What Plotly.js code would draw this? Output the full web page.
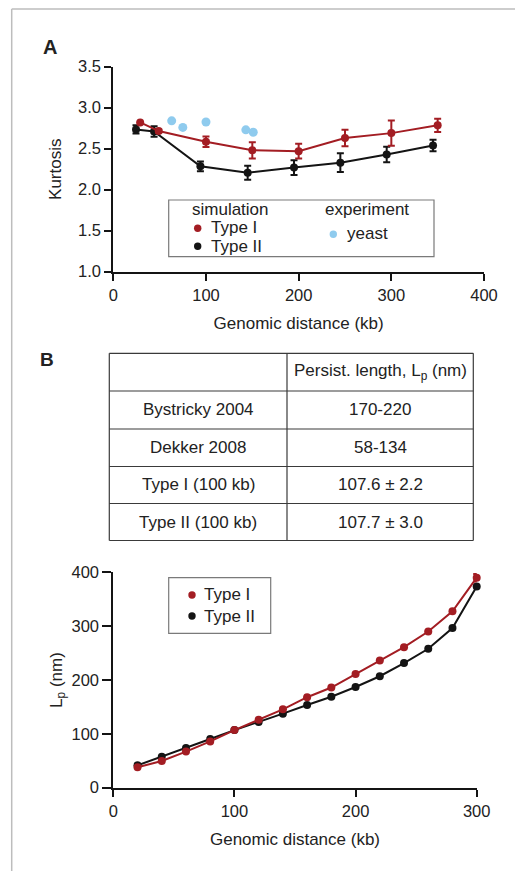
<!DOCTYPE html>
<html><head><meta charset="utf-8">
<script src="https://cdn.plot.ly/plotly-3.0.1.min.js"></script>
<style>html,body{margin:0;padding:0;background:#fff;}#chart{width:515px;height:871px;}</style>
</head><body><div id="chart"></div>
<script>
// ---- Panel A: kurtosis vs genomic distance ----
const kbTypeI = [29, 49, 100, 150, 200, 250, 300, 350];
const kurtTypeI = [2.82, 2.715, 2.585, 2.48, 2.47, 2.63, 2.69, 2.785];
const kurtTypeIErr = [0.0, 0.02, 0.065, 0.10, 0.09, 0.10, 0.155, 0.08];
const kbTypeII = [24.5, 44, 94, 145, 195, 245, 295, 345];
const kurtTypeII = [2.735, 2.71, 2.285, 2.207, 2.27, 2.33, 2.43, 2.54];
const kurtTypeIIErr = [0.05, 0.065, 0.06, 0.085, 0.09, 0.115, 0.095, 0.07];
const kbYeast = [63, 75, 100, 143, 151];
const kurtYeast = [2.84, 2.76, 2.825, 2.73, 2.70];
const kurtTicks = [1.0, 1.5, 2.0, 2.5, 3.0, 3.5];
const kbTicksA = [0, 100, 200, 300, 400];

// ---- Panel B: table ----
const tableHeader = ["", "Persist. length, L<sub>p</sub> (nm)"];
const tableSources = ["Bystricky 2004", "Dekker 2008", "Type I (100 kb)", "Type II (100 kb)"];
const tableLp = ["170-220", "58-134", "107.6 ± 2.2", "107.7 ± 3.0"];

// ---- Panel B: Lp vs genomic distance ----
const kbLp = [20, 40, 60, 80, 100, 120, 140, 160, 180, 200, 220, 240, 260, 280, 300];
const lpTypeI = [38, 49.5, 67, 86, 107, 126, 145.5, 168, 186, 211, 236, 261, 290, 327.5, 390];
const lpTypeIErr = [0, 0, 0, 0, 0, 0, 0, 0, 0, 0, 0, 0, 0, 0, 7];
const lpTypeII = [41.5, 57.5, 73.5, 90.5, 107, 122, 137.5, 153.5, 169, 187, 207, 231.5, 258, 296.5, 373.5];
const lpTicks = [0, 100, 200, 300, 400];
const kbTicksB = [0, 100, 200, 300];

const RED = '#a31d23', BLACK = '#141414', BLUE = '#8fcbee', INK = '#222';
const W = 515, H = 871;
const px = v => v / W, py = v => 1 - v / H;
const FONT = '"Liberation Sans", Arial, Helvetica, sans-serif';
const FS = 17;

const traces = [
  {x: kbTypeII, y: kurtTypeII, type: 'scatter', mode: 'lines+markers', xaxis: 'x', yaxis: 'y',
   line: {color: BLACK, width: 2}, marker: {color: BLACK, size: 8},
   error_y: {type: 'data', array: kurtTypeIIErr, color: BLACK, thickness: 2, width: 3.5},
   cliponaxis: false, showlegend: false, name: 'Type II'},
  {x: kbTypeI, y: kurtTypeI, type: 'scatter', mode: 'lines+markers', xaxis: 'x', yaxis: 'y',
   line: {color: RED, width: 2}, marker: {color: RED, size: 8},
   error_y: {type: 'data', array: kurtTypeIErr, color: RED, thickness: 2, width: 3.5},
   cliponaxis: false, showlegend: false, name: 'Type I'},
  {x: kbYeast, y: kurtYeast, type: 'scatter', mode: 'markers', xaxis: 'x', yaxis: 'y',
   marker: {color: BLUE, size: 9}, cliponaxis: false, showlegend: false, name: 'yeast'},
  {x: kbLp, y: lpTypeII, type: 'scatter', mode: 'lines+markers', xaxis: 'x2', yaxis: 'y2',
   line: {color: BLACK, width: 2}, marker: {color: BLACK, size: 8},
   cliponaxis: false, showlegend: false, name: 'Type II'},
  {x: kbLp, y: lpTypeI, type: 'scatter', mode: 'lines+markers', xaxis: 'x2', yaxis: 'y2',
   line: {color: RED, width: 2}, marker: {color: RED, size: 8},
   error_y: {type: 'data', array: lpTypeIErr, color: RED, thickness: 2, width: 3.5},
   cliponaxis: false, showlegend: false, name: 'Type I'}
];

const axisBase = {showline: true, linecolor: BLACK, ticks: 'outside', tickcolor: BLACK, tickwidth: 2,
  showgrid: false, zeroline: false, fixedrange: true, tickfont: {family: FONT, size: 16.5, color: INK},
  automargin: false};

function dot(cx, cy, color) {
  return {type: 'circle', xref: 'paper', yref: 'paper', x0: px(cx - 3.7), x1: px(cx + 3.7),
          y0: py(cy + 3.7), y1: py(cy - 3.7), fillcolor: color, line: {width: 0}};
}
function label(text, x, y, size, opts) {
  return Object.assign({text: text, x: px(x), y: py(y), xref: 'paper', yref: 'paper', showarrow: false,
    xanchor: 'left', yanchor: 'middle', font: {family: FONT, size: size, color: INK}}, opts || {});
}
function pline(x0, y0, x1, y1, color, width) {
  return {type: 'line', xref: 'paper', yref: 'paper', x0: px(x0), x1: px(x1), y0: py(y0), y1: py(y1),
          line: {color: color, width: width}};
}

// table geometry (page pixels)
const tabCols = [109.3, 287, 473.3];
const tabRows = [353.3, 391, 429, 466.5, 503.5, 540.5];
const tableShapes = [];
tabRows.forEach(y => tableShapes.push(pline(tabCols[0], y, tabCols[2], y, '#3a3a3a', 1.2)));
tabCols.forEach(x => tableShapes.push(pline(x, tabRows[0], x, tabRows[tabRows.length - 1], '#3a3a3a', 1.2)));
const tableAnn = [];
tableHeader.forEach((t, c) => {
  if (t) tableAnn.push(label(t, (tabCols[c] + tabCols[c + 1]) / 2, (tabRows[0] + tabRows[1]) / 2, FS, {xanchor: 'center'}));
});
tableSources.forEach((t, r) => {
  const yc = (tabRows[r + 1] + tabRows[r + 2]) / 2;
  tableAnn.push(label(t, (tabCols[0] + tabCols[1]) / 2, yc, FS, {xanchor: 'center'}));
  tableAnn.push(label(tableLp[r], (tabCols[1] + tabCols[2]) / 2, yc, FS, {xanchor: 'center'}));
});

const layout = {
  width: W, height: H, margin: {l: 0, r: 0, t: 0, b: 0},
  paper_bgcolor: '#fff', plot_bgcolor: 'rgba(0,0,0,0)', font: {family: FONT, color: INK},
  showlegend: false,
  xaxis: Object.assign({}, axisBase, {domain: [px(113.3), px(484)], range: [0, 400], tickvals: kbTicksA,
    anchor: 'y', linewidth: 2.5, ticklen: 7,
    title: {text: 'Genomic distance (kb)', font: {family: FONT, size: FS, color: INK}, standoff: 14}}),
  yaxis: Object.assign({}, axisBase, {domain: [py(271.7), py(66.7)], range: [1, 3.5], tickvals: kurtTicks,
    tickformat: '.1f', anchor: 'x', linewidth: 2, ticklen: 7,
    title: {text: 'Kurtosis', font: {family: FONT, size: FS, color: INK}, standoff: 12}}),
  xaxis2: Object.assign({}, axisBase, {domain: [px(113.3), px(476.7)], range: [0, 300], tickvals: kbTicksB,
    anchor: 'y2', linewidth: 2, ticklen: 7,
    title: {text: 'Genomic distance (kb)', font: {family: FONT, size: FS, color: INK}, standoff: 15}}),
  yaxis2: Object.assign({}, axisBase, {domain: [py(787.7), py(572.3)], range: [0, 400], tickvals: lpTicks,
    anchor: 'x2', linewidth: 2, ticklen: 9,
    title: {text: 'L<sub>p</sub> (nm)', font: {family: FONT, size: FS, color: INK}, standoff: 5}}),
  shapes: [
    // page frame
    pline(11.7, H, 11.7, 9, '#bdbdbd', 1.5),
    pline(11.7, 9, W, 9, '#bdbdbd', 1.5),
    // legend A box
    {type: 'rect', xref: 'paper', yref: 'paper', x0: px(168.7), x1: px(434), y0: py(256.7), y1: py(200),
     line: {color: '#7a7a7a', width: 1.2}, fillcolor: 'rgba(0,0,0,0)'},
    dot(197.7, 228.3, RED), dot(197.7, 246.3, BLACK), dot(333.3, 234.3, BLUE),
    // legend B box
    {type: 'rect', xref: 'paper', yref: 'paper', x0: px(168.7), x1: px(270.7), y0: py(633.3), y1: py(577.7),
     line: {color: '#7a7a7a', width: 1.2}, fillcolor: 'rgba(0,0,0,0)'},
    dot(192, 595, RED), dot(192, 616, BLACK)
  ].concat(tableShapes),
  annotations: [
    label('A', 49.7, 46.7, 20, {xanchor: 'center', font: {family: FONT, size: 20, color: INK, weight: 'bold'}}),
    label('B', 47, 360, 19, {xanchor: 'center', font: {family: FONT, size: 19, color: INK, weight: 'bold'}}),
    label('simulation', 189.5, 210, FS),
    label('Type I', 208.5, 227.5, FS),
    label('Type II', 208.5, 246.5, FS),
    label('experiment', 322.5, 210, FS),
    label('yeast', 345, 233.5, FS),
    label('Type I', 201.5, 594.5, FS),
    label('Type II', 201.5, 616.5, FS)
  ].concat(tableAnn)
};

Plotly.newPlot('chart', traces, layout, {displayModeBar: false, staticPlot: true});
</script>
</body></html>
